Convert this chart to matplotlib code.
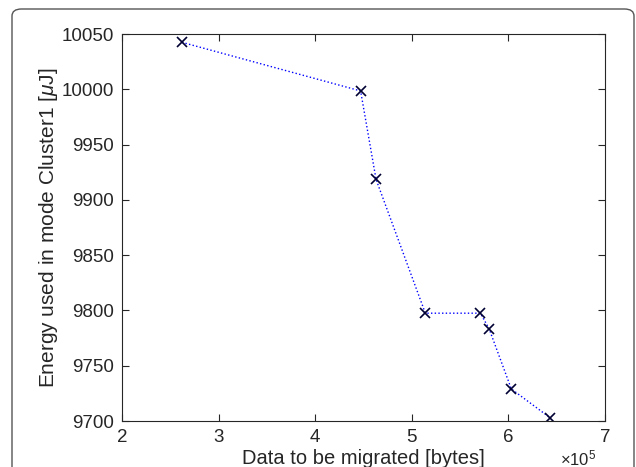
import matplotlib
matplotlib.use("Agg")
import matplotlib.pyplot as plt
from matplotlib.patches import FancyBboxPatch

data_bytes = [2.62e5, 4.47e5, 4.63e5, 5.14e5, 5.71e5, 5.80e5, 6.03e5, 6.43e5]
energy_uJ = [10042.5, 9998.5, 9918.5, 9797.5, 9797.5, 9783.5, 9729, 9703]
x_ticks = [2, 3, 4, 5, 6, 7]
y_ticks = [9700, 9750, 9800, 9850, 9900, 9950, 10000, 10050]

plt.rcParams['font.family'] = ['Liberation Sans', 'DejaVu Sans']
plt.rcParams['mathtext.fontset'] = 'custom'
plt.rcParams['mathtext.it'] = 'Liberation Sans:italic'
plt.rcParams['mathtext.rm'] = 'Liberation Sans'

fig = plt.figure(figsize=(6.36, 4.67), dpi=100)
border = FancyBboxPatch((12 / 636, -0.1), 622 / 636, (467 - 9) / 467 + 0.1,
                        boxstyle="round,pad=0,rounding_size=0.015",
                        transform=fig.transFigure, fill=False,
                        edgecolor='#555555', linewidth=1.0, clip_on=False)
fig.patches.append(border)

ax = fig.add_axes([122 / 636, 1 - 421 / 467, (605 - 122) / 636, (421 - 34) / 467])
xs = [v / 1e5 for v in data_bytes]
ax.plot(xs, energy_uJ, linestyle=':', color='#0000ff', linewidth=1.0)
ax.plot(xs, energy_uJ, linestyle='none', marker='x', color='#000033',
        markersize=7, markeredgewidth=1.2)

ax.set_xlim(2, 7)
ax.set_ylim(9700, 10050)
ax.set_xticks(x_ticks)
ax.set_yticks(y_ticks)
ax.set_xticklabels([str(t) for t in x_ticks])
ax.set_yticklabels([str(t) for t in y_ticks])
ax.tick_params(direction='in', top=True, right=True, length=5, width=0.8,
               labelsize=13.5, colors='#262626', pad=6)
for s in ax.spines.values():
    s.set_color('#262626')
    s.set_linewidth(0.8)
ax.set_xlabel('Data to be migrated [bytes]', fontsize=14.5, color='#262626', labelpad=2)
ax.set_ylabel('Energy used in mode Cluster1 [$\\mu$J]', fontsize=15, color='#262626', labelpad=1)
fig.text(560 / 636, 1 - 465 / 467, '$\\times10^5$', fontsize=12, color='#262626',
         ha='left', va='baseline')

fig.savefig('out.png', dpi=100)
